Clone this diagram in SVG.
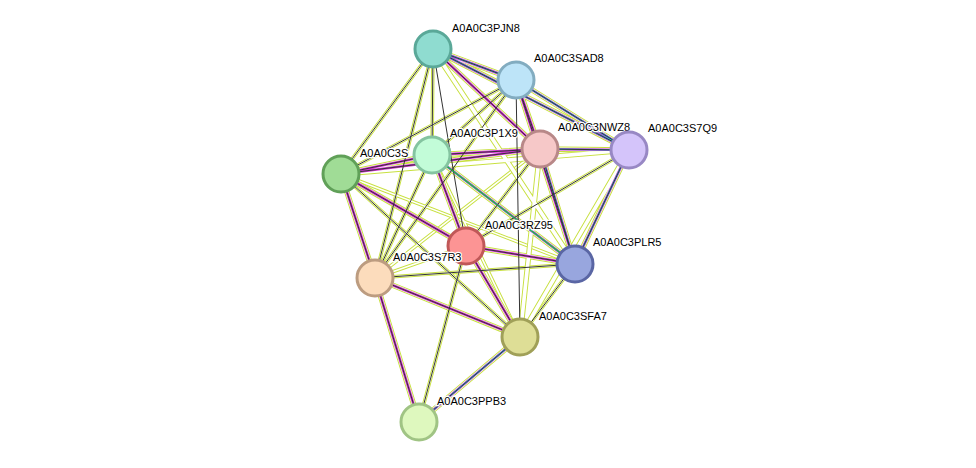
<svg xmlns="http://www.w3.org/2000/svg" width="976" height="468" viewBox="0 0 976 468">
<style>
path{fill:none}
.y{stroke:#c8e040;stroke-width:5.5}
.y2{stroke:#c8e040;stroke-width:3.5}
.w{stroke:#fff;stroke-width:3.6}
.w2{stroke:#fff;stroke-width:1.6}
.m{stroke:#d030d0;stroke-width:2.6}
.c{stroke:#30b8e0;stroke-width:1.6}
.k{stroke:#333;stroke-width:1}
text{font-family:"Liberation Sans",Arial,sans-serif;font-size:11px;fill:#000;paint-order:stroke;stroke:#fff;stroke-width:2.5px}
circle{stroke-width:3}
</style>
<rect width="976" height="468" fill="#fff"/>
<g id="connectors">
<path class="y2" d="M433,49L432,155M433,49L341,174M516,80L432,155M516,80L341,174M433,49L375,278M516,80L375,278M432,155L375,278M432,155L520,337M341,174L520,337M540,149L466,246M540,149L375,278M629,150L466,246M466,246L419,422M375,278L575,264M575,264L520,337M466,246L375,278M341,174L575,264"/>
<path class="w2" d="M433,49L432,155M433,49L341,174M516,80L432,155M516,80L341,174M433,49L375,278M516,80L375,278M432,155L375,278M432,155L520,337M341,174L520,337M540,149L466,246M540,149L375,278M629,150L466,246M466,246L419,422M375,278L575,264M575,264L520,337M466,246L375,278M341,174L575,264"/>
<path class="y" d="M433,49L516,80M433,49L540,149M433,49L629,150M516,80L540,149M516,80L629,150M516,80L575,264M540,149L629,150M540,149L575,264M629,150L575,264M432,155L540,149M341,174L540,149M341,174L432,155M432,155L466,246M341,174L375,278M466,246L520,337M375,278L520,337M520,337L419,422M375,278L419,422M466,246L575,264M433,49L575,264M540,149L520,337M629,150L520,337M341,174L466,246M432,155L575,264M341,174L629,150"/>
<path class="w" d="M433,49L516,80M433,49L540,149M433,49L629,150M516,80L540,149M516,80L629,150M516,80L575,264M540,149L629,150M540,149L575,264M629,150L575,264M432,155L540,149M341,174L540,149M341,174L432,155M432,155L466,246M341,174L375,278M466,246L520,337M375,278L520,337M520,337L419,422M375,278L419,422M466,246L575,264M433,49L575,264M540,149L520,337M629,150L520,337M341,174L466,246M432,155L575,264M341,174L629,150"/>
<path class="m" d="M433,49L516,80M433,49L540,149M433,49L629,150M516,80L540,149M516,80L629,150M516,80L575,264M540,149L629,150M540,149L575,264M629,150L575,264M432,155L540,149M341,174L540,149M341,174L432,155M432,155L466,246M341,174L375,278M466,246L520,337M375,278L520,337M520,337L419,422M375,278L419,422M466,246L575,264M341,174L466,246M432,155L575,264"/>
<path class="c" d="M433,49L516,80M433,49L629,150M516,80L629,150M540,149L629,150M540,149L575,264M629,150L575,264M520,337L419,422M432,155L575,264"/>
<path class="k" d="M433,49L516,80M433,49L540,149M433,49L629,150M516,80L540,149M516,80L629,150M516,80L575,264M540,149L629,150M540,149L575,264M629,150L575,264M432,155L540,149M341,174L540,149M341,174L432,155M432,155L466,246M341,174L375,278M466,246L520,337M375,278L520,337M520,337L419,422M375,278L419,422M466,246L575,264M433,49L432,155M433,49L341,174M516,80L432,155M516,80L341,174M433,49L375,278M516,80L375,278M432,155L375,278M341,174L520,337M540,149L466,246M629,150L466,246M466,246L419,422M375,278L575,264M575,264L520,337M516,80L520,337M433,49L466,246M341,174L466,246"/>
<path stroke="#30b030" stroke-width="1.2" d="M432,155L575,264"/>
</g>
<g id="n1"><circle cx="433" cy="49" r="18" fill="#8fdcd0" stroke="#5aa898"/><text x="452" y="32">A0A0C3PJN8</text></g>
<g id="n2"><circle cx="516" cy="80" r="18" fill="#bde4f8" stroke="#82acc0"/><text x="534" y="62">A0A0C3SAD8</text></g>
<g id="n3"><circle cx="341" cy="174" r="18" fill="#a0dc96" stroke="#60a058"/><text x="360" y="157">A0A0C3S</text></g>
<g id="n4"><circle cx="432" cy="155" r="18" fill="#c2fcd8" stroke="#84c4a0"/><text x="450" y="137">A0A0C3P1X9</text></g>
<g id="n5"><circle cx="540" cy="149" r="18" fill="#f6c8c8" stroke="#b88888"/><text x="558" y="131">A0A0C3NWZ8</text></g>
<g id="n6"><circle cx="629" cy="150" r="18" fill="#d4c4fa" stroke="#9888c4"/><text x="648" y="132">A0A0C3S7Q9</text></g>
<g id="n7"><circle cx="466" cy="246" r="18" fill="#fc9494" stroke="#c05858"/><text x="485" y="229">A0A0C3RZ95</text></g>
<g id="n8"><circle cx="575" cy="264" r="18" fill="#98a6de" stroke="#5a66a4"/><text x="593" y="246">A0A0C3PLR5</text></g>
<g id="n9"><circle cx="375" cy="278" r="18" fill="#fcdcbc" stroke="#bc9c80"/><text x="393" y="261">A0A0C3S7R3</text></g>
<g id="n10"><circle cx="520" cy="337" r="18" fill="#dede96" stroke="#a0a058"/><text x="539" y="320">A0A0C3SFA7</text></g>
<g id="n11"><circle cx="419" cy="422" r="18" fill="#def8be" stroke="#a0c484"/><text x="437" y="405">A0A0C3PPB3</text></g>
</svg>
